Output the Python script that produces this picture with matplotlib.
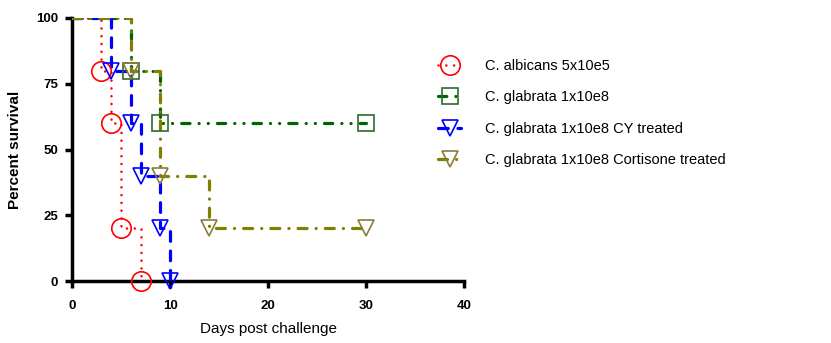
import matplotlib
matplotlib.use("Agg")
import matplotlib.pyplot as plt

plt.rcParams['font.family'] = ['Liberation Sans', 'DejaVu Sans']
plt.rcParams['lines.scale_dashes'] = False

# survival curves: step times (days) and percent surviving
albicans_t = [0, 3, 4, 5, 7]
albicans_s = [100, 80, 60, 20, 0]
glab_t = [0, 6, 9, 30]
glab_s = [100, 80, 60, 60]
cy_t = [0, 4, 6, 7, 9, 10]
cy_s = [100, 80, 60, 40, 20, 0]
cort_t = [0, 6, 9, 14, 30]
cort_s = [100, 80, 40, 20, 20]

labels = ["C. albicans 5x10e5", "C. glabrata 1x10e8",
          "C. glabrata 1x10e8 CY treated",
          "C. glabrata 1x10e8 Cortisone treated"]
xticks = [0, 10, 20, 30, 40]
yticks = [0, 25, 50, 75, 100]

fig = plt.figure(figsize=(8.31, 3.43), dpi=100)
ax = fig.add_axes([72/831, 62/343, 392/831, 263/343])

series = [
    (albicans_t, albicans_s, 'red', 'red', 'o', 14, 1.8, (0, (0.1, 5.5))),
    (glab_t, glab_s, '#006400', '#2e6b2e', 's', 11, 2.3, (0, (6, 6.5, 0.1, 6.5, 0.1, 6.5))),
    (cy_t, cy_s, '#0000ff', '#0000ff', 'v', 11, 2.3, (0, (7, 7))),
    (cort_t, cort_s, '#808000', '#8c7b3c', 'v', 11, 2.3, (0, (6.5, 6.5, 0.1, 6.5))),
]

handles = []
for t, s, col, mcol, mk, ms, lw, ls in series:
    ax.step(t, s, where='post', color=col, lw=lw, linestyle=ls,
            dash_capstyle='round', solid_capstyle='round', zorder=3)
    ax.plot(t[1:], s[1:], linestyle='none', marker=mk, markersize=ms,
            markerfacecolor='none', markeredgecolor=mcol, markeredgewidth=1.2,
            zorder=4, clip_on=False)
    h, = ax.plot([], [], color=col, lw=lw, linestyle=ls, dash_capstyle='round',
                 marker=mk, markersize=ms, markerfacecolor='none',
                 markeredgecolor=mcol, markeredgewidth=1.2)
    handles.append(h)

ax.set_xlim(0, 40)
ax.set_ylim(0, 100)
ax.set_xticks(xticks)
ax.set_yticks(yticks)
for side in ['top', 'right']:
    ax.spines[side].set_visible(False)
for side in ['left', 'bottom']:
    ax.spines[side].set_linewidth(2.5)
ax.tick_params(direction='out', length=5, width=2.5, labelsize=9.5)
ax.tick_params(axis='x', pad=9)
ax.tick_params(axis='y', pad=5)
for lab in ax.get_xticklabels() + ax.get_yticklabels():
    lab.set_fontweight('bold')

ax.set_xlabel("Days post challenge", fontsize=11, labelpad=7)
ax.set_ylabel("Percent survival", fontsize=11, fontweight='bold', labelpad=10)

leg = ax.legend(handles, labels, loc='upper left', bbox_to_anchor=(0.9, 0.895),
                frameon=False, fontsize=10.5, handlelength=1.6,
                labelspacing=1.2, handletextpad=1.6)

fig.savefig("out.png", dpi=100)
